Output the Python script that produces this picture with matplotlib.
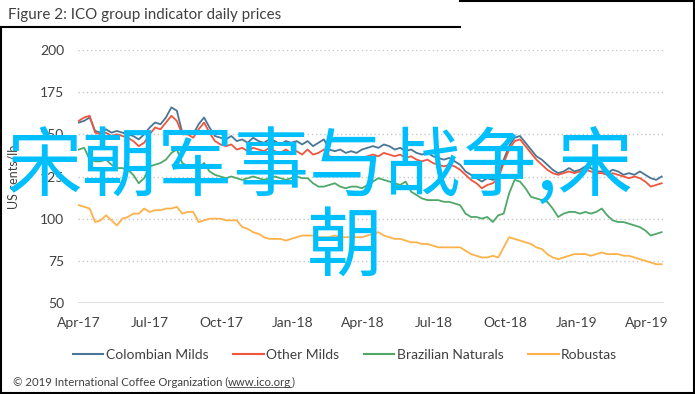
import matplotlib
matplotlib.use("Agg")
import matplotlib.pyplot as plt
import matplotlib.dates as mdates
from matplotlib.lines import Line2D
import numpy as np
import pandas as pd

plt.rcParams['font.family'] = ['Lato', 'DejaVu Sans']

dates = pd.date_range("2017-04-01", periods=108, freq="7D")

colombian = [157, 158, 160, 152, 151, 153, 151, 152, 151, 150,
             149, 147, 150, 154, 157, 156, 160, 166, 164, 151,
             152, 150, 156, 160, 154, 149, 148, 147, 149, 146,
             147, 145, 148, 146, 145, 147, 146, 144, 146, 145,
             146, 144, 146, 143, 145, 147, 141, 140, 141, 139,
             140, 139, 141, 142, 143, 142, 144, 143, 141, 142,
             140, 141, 139, 138, 139, 137, 136, 135, 136, 134,
             132, 128, 126, 124, 122, 124, 123, 125, 135, 143,
             148, 149, 145, 141, 137, 135, 132, 129, 127, 128,
             130, 128, 129, 131, 130, 128, 128, 127, 129, 128,
             126, 127, 126, 128, 126, 124, 123, 125]

other_milds = [158, 160, 161, 151, 150, 151, 149, 150, 149, 148,
               146, 143, 145, 150, 154, 153, 157, 161, 158, 150,
               150, 148, 153, 157, 151, 146, 144, 143, 144, 141,
               142, 140, 142, 141, 140, 142, 140, 139, 141, 139,
               140, 138, 141, 138, 139, 141, 137, 136, 136, 135,
               136, 135, 136, 137, 138, 137, 139, 138, 137, 138,
               136, 137, 135, 134, 135, 133, 132, 131, 132, 131,
               129, 126, 123, 121, 118, 120, 121, 124, 133, 141,
               146, 147, 143, 139, 135, 132, 129, 127, 126, 127,
               128, 127, 128, 129, 128, 127, 127, 126, 127, 126,
               125, 124, 125, 124, 122, 119, 120, 121]

brazilian = [141, 142, 135, 134, 134, 135, 132, 130, 130, 129,
             126, 121, 124, 131, 132, 133, 135, 139, 141, 133,
             131, 131, 130, 133, 128, 126, 125, 124, 125, 124,
             123, 124, 125, 124, 123, 124, 125, 124, 123, 124,
             125, 124, 124, 121, 119, 119, 120, 121, 119, 118,
             119, 119, 118, 120, 122, 124, 123, 122, 121, 120,
             122, 116, 114, 112, 111, 111, 111, 110, 110, 109,
             108, 103, 101, 101, 100, 101, 98, 102, 103, 115,
             123, 122, 118, 113, 112, 111, 110, 106, 101, 103,
             104, 104, 103, 104, 103, 104, 106, 102, 99, 98,
             98, 97, 96, 95, 93, 90, 91, 92]

robustas = [108, 107, 106, 98, 99, 102, 99, 96, 100, 101,
            103, 103, 106, 104, 105, 105, 106, 106, 107, 103,
            104, 104, 98, 99, 100, 100, 100, 99, 99, 99,
            95, 94, 92, 91, 89, 88, 88, 88, 87, 88,
            89, 90, 90, 90, 89, 89, 89, 90, 89, 89,
            89, 89, 89, 90, 91, 92, 90, 89, 88, 88,
            87, 86, 86, 85, 85, 84, 83, 83, 83, 83,
            83, 81, 79, 78, 77, 77, 78, 77, 83, 89,
            88, 87, 86, 85, 83, 82, 79, 77, 76, 77,
            78, 79, 79, 79, 78, 79, 80, 79, 79, 79,
            78, 78, 77, 76, 75, 74, 73, 73]

series_names = ["Colombian Milds", "Other Milds", "Brazilian Naturals", "Robustas"]
series_values = [colombian, other_milds, brazilian, robustas]
series_colors = ["#4A7696", "#F0553E", "#4FA86A", "#FDB24A"]

tick_dates = pd.date_range("2017-04-01", "2019-04-01", freq="3MS")
tick_labels = ["Apr-17", "Jul-17", "Oct-17", "Jan-18", "Apr-18", "Jul-18", "Oct-18", "Jan-19", "Apr-19"]
y_ticks = [50, 75, 100, 125, 150, 175, 200]

W, H = 695, 394
fig = plt.figure(figsize=(W / 100, H / 100), dpi=100)
ax = fig.add_axes([78 / W, 1 - 303 / H, (664 - 78) / W, (303 - 50) / H])

for name, vals, col in zip(series_names, series_values, series_colors):
    ax.plot(dates, vals, color=col, lw=1.3, label=name)

ax.set_ylim(50, 200)
ax.set_xlim(pd.Timestamp("2017-03-31"), pd.Timestamp("2019-04-23"))
ax.set_yticks(y_ticks)
ax.set_xticks(tick_dates)
ax.set_xticklabels(tick_labels)
for v in y_ticks[1:]:
    ax.axhline(v, color="#C8C8C8", lw=1.0, ls=(0, (1, 2)), zorder=0)
ax.axhline(50, color="#D9D9D9", lw=1.2, zorder=0)
for s in ax.spines.values():
    s.set_visible(False)
ax.tick_params(length=0, labelsize=10, colors="#404040")
ax.tick_params(axis='y', pad=10)
ax.tick_params(axis='x', pad=10)
ax.set_ylabel("US cents/lb", fontsize=9, color="#404040")
ax.yaxis.set_label_coords(-0.100, 0.5)

# title
fig.text(8 / W, 1 - 15 / H, "Figure 2: ICO group indicator daily prices",
         fontsize=10.9, color="#404040", va="center", ha="left")

# legend
handles = [Line2D([0], [0], color=c, lw=1.5) for c in series_colors]
fig.legend(handles, series_names, loc="center", bbox_to_anchor=(345 / W, 1 - 355 / H),
           ncol=4, frameon=False, fontsize=10, handlelength=2.2, handletextpad=0.15,
           columnspacing=1.8, labelcolor="#404040")

# copyright with underlined url
cfs = 8.2
t1 = fig.text(13 / W, 1 - 382 / H, "\u00a9 2019 International Coffee Organization (",
              fontsize=cfs, color="#404040", va="center", ha="left")
fig.canvas.draw()
r = fig.canvas.get_renderer()
bb = t1.get_window_extent(r)
t2 = fig.text(bb.x1 / W, 1 - 382 / H, "www.ico.org", fontsize=cfs, color="#404040", va="center", ha="left")
bb2 = t2.get_window_extent(r)
fig.text(bb2.x1 / W, 1 - 382 / H, ")", fontsize=cfs, color="#404040", va="center", ha="left")
fig.add_artist(Line2D([bb2.x0 / W, bb2.x1 / W], [(bb2.y0 + 1) / H, (bb2.y0 + 1) / H],
                      color="#404040", lw=0.6, transform=fig.transFigure))

# watermark
fig.text(320 / W, 1 - 169 / H, "宋朝军事与战争,宋", fontsize=54.5, color="#00BFFF",
         ha="center", va="center", family=["Noto Sans CJK SC", "DejaVu Sans"])
fig.text(345 / W, 1 - 248 / H, "朝", fontsize=54.5, color="#00BFFF",
         ha="center", va="center", family=["Noto Sans CJK SC", "DejaVu Sans"])

# frame
def fline(x0, y0, x1, y1, lw=1.5):
    fig.add_artist(Line2D([x0 / W, x1 / W], [1 - y0 / H, 1 - y1 / H], color="black",
                          lw=lw, transform=fig.transFigure))

fline(1, 27, 460, 27)
fline(460, 1, 694, 1)
fline(1, 27, 1, 393)
fline(693.5, 1, 693.5, 393)
fline(1, 392.5, 694, 392.5)

fig.savefig("out.png", dpi=100)
